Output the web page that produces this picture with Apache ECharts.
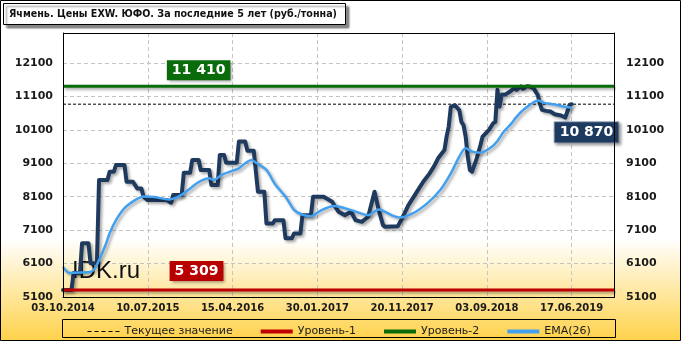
<!DOCTYPE html>
<html><head><meta charset="utf-8">
<script src="https://cdn.jsdelivr.net/npm/echarts@6/dist/echarts.min.js"></script>
<style>html,body{margin:0;padding:0;background:#fff}#c{width:681px;height:341px}</style>
</head><body><div id="c"></div>
<script>
const titleText = 'Ячмень. Цены EXW. ЮФО. За последние 5 лет (руб./тонна)';
const tickLabels = ['03.10.2014','10.07.2015','15.04.2016','30.01.2017','20.11.2017','03.09.2018','17.06.2019'];
// weeks since 03.10.2014
const priceWeeks = [0,4,5,8,9,12,13,16,17,21,22,24,25,29,30,33,35,37,38,40,49,51,52,56,57,60,61,64,65,69,70,73,74,76,77,82,83,86,87,90,92,95,96,99,100,104,105,108,109,112,113,117,118,123,127,130,133,136,138,141,144,147,149,151,152,158,160,163,166,168,170,173,175,177,180,181,182,183,185,187,188,189,190,191,192,193,195,197,198,201,203,204,205,206,207,209,211,213,214,216,217,219,220,222,224,225,226,228,230,232,235,237,238,239,240];
const priceValues = [5309,5309,5820,5820,6710,6710,6110,6110,8600,8600,8850,8850,9050,9050,8550,8550,8350,8350,8100,8000,8000,7920,8150,8150,8820,8820,9200,9200,8900,8900,8450,8450,9350,9350,9120,9120,9750,9750,9480,9480,8250,8250,7300,7300,7400,7400,6860,6860,7000,7000,7550,7550,8100,8100,7950,7650,7550,7650,7400,7350,7500,8250,7700,7250,7200,7220,7450,7850,8150,8350,8550,8800,9000,9250,9500,9900,10200,10790,10840,10690,10340,10240,9900,9300,8900,8850,9200,9650,9900,10100,10300,10340,11300,10800,11150,11170,11250,11350,11300,11400,11330,11410,11400,11350,11150,10900,10700,10670,10650,10570,10530,10470,10650,10850,10870];
const emaWeeks = [0,3,8,13,15,17,20,22,25,29,34,38,43,50,54,57,60,64,69,71,75,80,83,86,89,91,96,100,105,109,113,117,122,128,136,144,149,155,159,165,172,178,183,187,190,193,197,202,205,208,211,214,217,221,224,227,232,236,240];
const emaValues = [6000,5820,5830,5850,5950,6200,6650,7010,7400,7760,8000,8110,8090,8020,8090,8200,8350,8540,8650,8600,8760,8880,8950,9100,9200,9120,8900,8480,8100,7710,7560,7520,7700,7820,7700,7550,7720,7550,7480,7600,7910,8300,8800,9300,9550,9450,9420,9580,9770,10050,10250,10490,10690,10880,10980,10910,10860,10800,10760];
const level1 = 5309, level2 = 11410, currentValue = 10870;
const legendNames = ['Текущее значение','Уровень-1','Уровень-2','EMA(26)'];

const axisMaxWeek = 260;
const fmt = v => String(v).replace(/\B(?=(\d{3})+(?!\d))/g, ' ');
const zip = (a, b) => a.map((x, i) => [x, b[i]]);
const shadow = {shadowColor:'rgba(0,0,0,0.35)', shadowBlur:3, shadowOffsetX:2, shadowOffsetY:2};
const F = '"DejaVu Sans"';

function levelLabel(week, value, bg, dy, border){
  return {
    symbol:'rect', symbolSize:1, itemStyle:{color:'rgba(0,0,0,0)'},
    data:[{coord:[week, value]}],
    label:{show:true, position:'inside', offset:[0, dy], formatter: fmt(value),
      backgroundColor:bg, color:'#fff', fontFamily:F, fontWeight:'bold', fontSize:14,
      padding:[2,5], lineHeight:16,
      borderColor: border || bg, borderWidth: border ? 1 : 0,
      shadowColor:'rgba(0,0,0,0.4)', shadowBlur:3, shadowOffsetX:2, shadowOffsetY:2}
  };
}

const chart = echarts.init(document.getElementById('c'));
chart.setOption({
  animation:false,
  backgroundColor:{type:'linear',x:0,y:0,x2:0,y2:1,colorStops:[
    {offset:0,color:'#ffffff'},{offset:0.70,color:'#ffffff'},{offset:1,color:'#FFD24A'}]},
  grid:{left:63, right:67, top:33, bottom:44, show:false},
  xAxis:{type:'value', min:0, max:axisMaxWeek, interval:40,
    axisLine:{show:true, lineStyle:{color:'#000'}}, axisTick:{show:false},
    axisLabel:{formatter: v => tickLabels[v/40] || '', showMaxLabel:false, color:'#1a1a1a', fontFamily:F, fontWeight:'bold', fontSize:10, margin:6},
    splitLine:{show:true, lineStyle:{color:'#c4c4c4', type:[4,3]}}},
  yAxis:[
    {type:'value', min:5100, max:13000, interval:1000, position:'left',
      axisLine:{show:true, lineStyle:{color:'#000'}}, axisTick:{show:false},
      axisLabel:{formatter: v => v >= 13000 ? '' : String(v), color:'#1a1a1a', fontFamily:F, fontWeight:'bold', fontSize:11, margin:10},
      splitLine:{show:true, lineStyle:{color:'#c4c4c4', type:[4,3]}}},
    {type:'value', min:5100, max:13000, interval:1000, position:'right',
      axisLine:{show:true, lineStyle:{color:'#000'}}, axisTick:{show:false},
      axisLabel:{formatter: v => v >= 13000 ? '' : String(v), color:'#1a1a1a', fontFamily:F, fontWeight:'bold', fontSize:11, margin:12},
      splitLine:{show:false}}
  ],
  legend:{left:82, top:321, itemWidth:32, itemHeight:10, itemGap:26,
    itemStyle:{opacity:0},
    data:[
      {name:legendNames[0], lineStyle:{width:1, type:[4,3]}},
      {name:legendNames[1], lineStyle:{width:4}},
      {name:legendNames[2], lineStyle:{width:4}},
      {name:legendNames[3], lineStyle:{width:4}}
    ],
    textStyle:{fontFamily:F, fontSize:11, color:'#1a1a1a'}},
  graphic:[
    {type:'rect', z:100, shape:{x:0.5,y:0.5,width:680,height:340}, style:{fill:'none', stroke:'#000', lineWidth:1}},
    {type:'rect', z:100, shape:{x:63.5,y:33.5,width:551,height:264}, style:{fill:'none', stroke:'#000', lineWidth:1}},
    {type:'rect', z:100, shape:{x:3.5,y:3.5,width:342,height:21}, style:{fill:'#fff', stroke:'#000', lineWidth:1, shadowColor:'rgba(0,0,0,0.45)', shadowBlur:2, shadowOffsetX:3, shadowOffsetY:3}},
    {type:'text', z:101, x:9, y:14, scaleX:0.87, style:{text:titleText, font:'bold 11px '+F, fill:'#111', textVerticalAlign:'middle'}},
    {type:'rect', z:1, shape:{x:62.5,y:319.5,width:553,height:18}, style:{fill:'none', stroke:'#000', lineWidth:1}},
    {type:'text', z:3, x:72, y:259, style:{text:'IDK.ru', font:'24px "Liberation Sans"', fill:'#111'}}
  ],
  series:[
    {name:'price', type:'line', data:zip(priceWeeks, priceValues), symbol:'none', z:3,
      lineStyle:Object.assign({color:'#1F3A5F', width:4, cap:'round', join:'round'}, shadow)},
    {name:'EMA(26)', type:'line', data:zip(emaWeeks, emaValues), symbol:'none', smooth:0.3, z:4,
      itemStyle:{color:'#42A0F0'},
      lineStyle:Object.assign({color:'#42A0F0', width:2.5}, shadow)},
    {name:'Текущее значение', type:'line', data:[[0,currentValue],[axisMaxWeek,currentValue]], symbol:'none', z:2,
      itemStyle:{color:'#000'},
      lineStyle:{color:'#000', width:1, type:[3,2]},
      markPoint: levelLabel(247, currentValue, '#1F3A5F', 28, '#8fa3bd')},
    {name:'Уровень-1', type:'line', data:[[0,level1],[axisMaxWeek,level1]], symbol:'none', z:5,
      itemStyle:{color:'#C00000'},
      lineStyle:Object.assign({color:'#C00000', width:3}, shadow),
      markPoint: levelLabel(63, level1, '#B80000', -19)},
    {name:'Уровень-2', type:'line', data:[[0,level2],[axisMaxWeek,level2]], symbol:'none', z:5,
      itemStyle:{color:'#0A6B0A'},
      lineStyle:Object.assign({color:'#0A6B0A', width:3}, shadow),
      markPoint: levelLabel(64, level2, '#0A6B0A', -16)}
  ]
});
</script></body></html>
